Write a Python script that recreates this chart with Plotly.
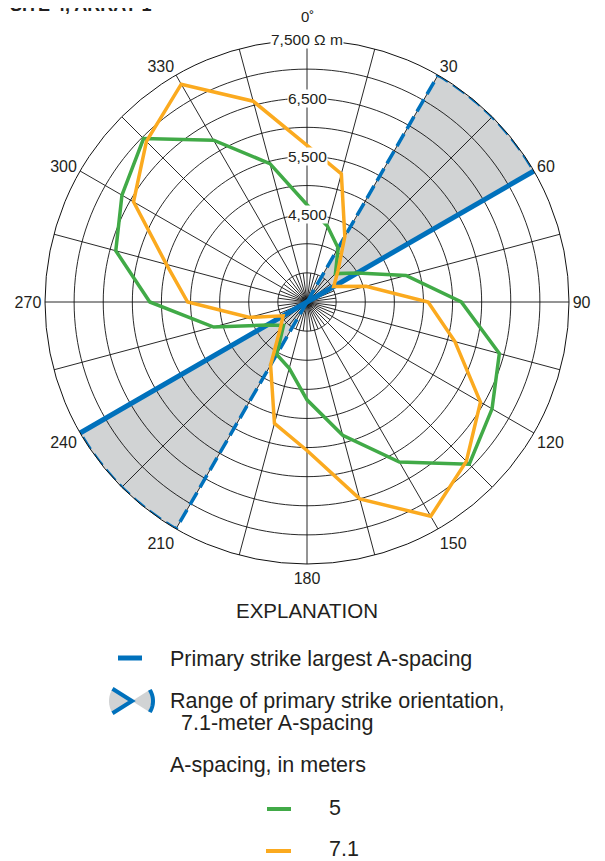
import numpy as np
import plotly.graph_objects as go

# azimuth of each reading, degrees clockwise from north
ANGLES = list(range(0, 360, 15))
# apparent resistivity (ohm-meters) for each A-spacing
RES_5M = [4670, 4350, 4070, 3690, 4000, 4760, 5650, 6420, 6670, 6940, 6175, 5370,
          4680, 4180, 4040, 3570, 3790, 4660, 5700, 6400, 6670, 6970, 6210, 5460]
RES_71M = [5690, 5280, 4300, 3750, 3530, 4050, 5080, 5630, 6440, 6870, 7250, 6500,
           5550, 5160, 4250, 3650, 3475, 4020, 5050, 5500, 6440, 6900, 7320, 6570]

STRIKE_PRIMARY = [60, 240]
STRIKE_RANGES = [(30, 60), (210, 240)]

R_MIN, R_MAX = 3000, 7500
RINGS = [3500, 4000, 4500, 5000, 5500, 6000, 6500, 7000]
RADIAL_TICKS = [4500, 5500, 6500, 7500]
RADIAL_TEXT = ['4,500', '5,500', '6,500', '7,500 \u03a9 m']
SPOKES = list(range(0, 360, 15))
ANGLE_TEXT = ['' if (a % 30 or a == 0) else str(a) for a in SPOKES]

BLUE = '#0071bc'
GREEN = '#41aa47'
ORANGE = '#fbaa1f'
GRAY = '#d1d3d4'
INK = '#231f20'
FONT = 'Liberation Sans, Arial, sans-serif'

# the page body has an 8px margin, so the figure sits at (8, 8) in the window
OFF = 8
W, H = 605 - OFF, 861 - OFF
CX, CY, RAD = 307, 302, 262   # polar area in window pixels


def px(x, y):
    return (x - OFF) / W, 1 - (y - OFF) / H


def path(points, close=True):
    s = 'M ' + ' L '.join('%.5f,%.5f' % px(x, y) for x, y in points)
    return s + (' Z' if close else '')


fig = go.Figure()

# shaded range of primary strike
for a0, a1 in STRIKE_RANGES:
    arc = list(np.linspace(a0, a1, 41))
    fig.add_trace(go.Scatterpolar(
        theta=[a0] + arc + [a1], r=[R_MIN] + [R_MAX] * len(arc) + [R_MIN],
        mode='lines', fill='toself', fillcolor=GRAY, line=dict(width=0),
        hoverinfo='skip', showlegend=False))

# grid drawn as traces so it shows over the shading
g_t, g_r = [], []
circle = list(np.linspace(0, 360, 181))
for v in RINGS:
    g_t += circle + [None]
    g_r += [v] * len(circle) + [None]
for a in SPOKES:
    g_t += [a, a, None]
    g_r += [R_MIN, R_MAX, None]
for a in np.arange(7.5, 360, 15):
    g_t += [a, a, None]
    g_r += [R_MIN, RINGS[0], None]
fig.add_trace(go.Scatterpolar(theta=g_t, r=g_r, mode='lines',
                              line=dict(color='#111111', width=0.9),
                              hoverinfo='skip', showlegend=False))

# dashed edge of the range
for a0, a1 in STRIKE_RANGES:
    arc = list(np.linspace(a0, a1, 41))
    fig.add_trace(go.Scatterpolar(
        theta=[a0, a0] + arc, r=[R_MIN, R_MAX] + [R_MAX] * len(arc),
        mode='lines', line=dict(color=BLUE, width=3.5, dash='14px,6px'),
        hoverinfo='skip', showlegend=False))

# primary strike, largest A-spacing
fig.add_trace(go.Scatterpolar(
    theta=[STRIKE_PRIMARY[0], STRIKE_PRIMARY[0], STRIKE_PRIMARY[1]],
    r=[R_MAX, R_MIN, R_MAX], mode='lines',
    line=dict(color=BLUE, width=5), showlegend=False))

for vals, col, name in [(RES_5M, GREEN, '5'), (RES_71M, ORANGE, '7.1')]:
    fig.add_trace(go.Scatterpolar(
        theta=ANGLES + ANGLES[:1], r=vals + vals[:1], mode='lines', name=name,
        line=dict(color=col, width=3.5), showlegend=False))

(x0p, y0p), (x1p, y1p) = px(CX - RAD, CY + RAD), px(CX + RAD, CY - RAD)
dom_x = [x0p, x1p]
dom_y = [y0p, y1p]

fig.update_layout(
    width=W, height=H,
    margin=dict(l=0, r=0, t=0, b=0),
    paper_bgcolor='white',
    font=dict(family=FONT, color=INK),
    polar=dict(
        domain=dict(x=dom_x, y=dom_y),
        bgcolor='white',
        radialaxis=dict(range=[R_MIN, R_MAX], showgrid=False, showline=False,
                        showticklabels=False, ticks=''),
        angularaxis=dict(rotation=90, direction='clockwise',
                         tickmode='array', tickvals=SPOKES, ticktext=ANGLE_TEXT,
                         showgrid=False, showline=True, linecolor='#111111',
                         linewidth=1, ticks='',
                         tickfont=dict(size=16, color=INK, family=FONT)),
    ),
)

# radial labels along the 0 degree spoke
cx_p = sum(dom_x) / 2
cy_p = sum(dom_y) / 2
ry_p = (dom_y[1] - dom_y[0]) / 2
for v, t in zip(RADIAL_TICKS, RADIAL_TEXT):
    fig.add_annotation(x=cx_p, y=cy_p + (v - R_MIN) / (R_MAX - R_MIN) * ry_p,
                       xref='paper', yref='paper', text=t, showarrow=False,
                       xanchor='center', yanchor='middle',
                       bgcolor='white', borderpad=0,
                       font=dict(size=15.5, color=INK))
fig.add_annotation(x=cx_p, y=dom_y[1], xref='paper', yref='paper', text='0\u02da',
                   showarrow=False, xanchor='center', yanchor='bottom', yshift=13,
                   font=dict(size=15, color=INK))

fig.add_annotation(x=0, y=1, xref='paper', yref='paper', xanchor='left',
                   yanchor='bottom', yshift=-9, text='<b>SITE 4, ARRAY 1</b>',
                   showarrow=False, font=dict(size=18, color=INK))


# explanation
def label(x, y, text, anchor='left', size=21.5):
    X, Y = px(x, y)
    fig.add_annotation(x=X, y=Y, xref='paper', yref='paper', text=text,
                       xanchor=anchor, yanchor='middle', showarrow=False,
                       font=dict(size=size, color=INK))


label(307, 610, 'EXPLANATION', 'center', 20.5)
label(168, 659, 'Primary strike largest A-spacing')
label(168, 701, 'Range of primary strike orientation,')
label(179, 723, '7.1-meter A-spacing')
label(168, 765, 'A-spacing, in meters')
label(327, 808, '5')
label(327, 849, '7.1')

for xa, xb, y, col, w in [(118, 142, 658, BLUE, 5), (267, 291, 809, GREEN, 4),
                          (266, 291, 851, ORANGE, 4)]:
    (XA, YA), (XB, _) = px(xa, y), px(xb, y)
    fig.add_shape(type='line', xref='paper', yref='paper', x0=XA, x1=XB,
                  y0=YA, y1=YA, line=dict(color=col, width=w))

# little bow-tie symbol for the range
ax_, ay_ = 132, 701
rt = np.radians(np.linspace(-32, 32, 17))
lt = np.radians(np.linspace(148, 212, 17))
right_arc = [(ax_ + 21 * np.cos(t), ay_ - 21 * np.sin(t)) for t in rt]
left_arc = [(ax_ + 23 * np.cos(t), ay_ - 23 * np.sin(t)) for t in lt]
fig.add_shape(type='path', xref='paper', yref='paper',
              path=path([(ax_, ay_)] + right_arc), fillcolor=GRAY, line=dict(width=0))
fig.add_shape(type='path', xref='paper', yref='paper',
              path=path([(ax_, ay_)] + left_arc), fillcolor=GRAY, line=dict(width=0))
fig.add_shape(type='path', xref='paper', yref='paper',
              path=path(right_arc, close=False), line=dict(color=BLUE, width=4))
fig.add_shape(type='path', xref='paper', yref='paper',
              path=path([left_arc[0], (ax_, ay_), left_arc[-1]], close=False),
              line=dict(color=BLUE, width=4))

fig.write_html('out.html')
